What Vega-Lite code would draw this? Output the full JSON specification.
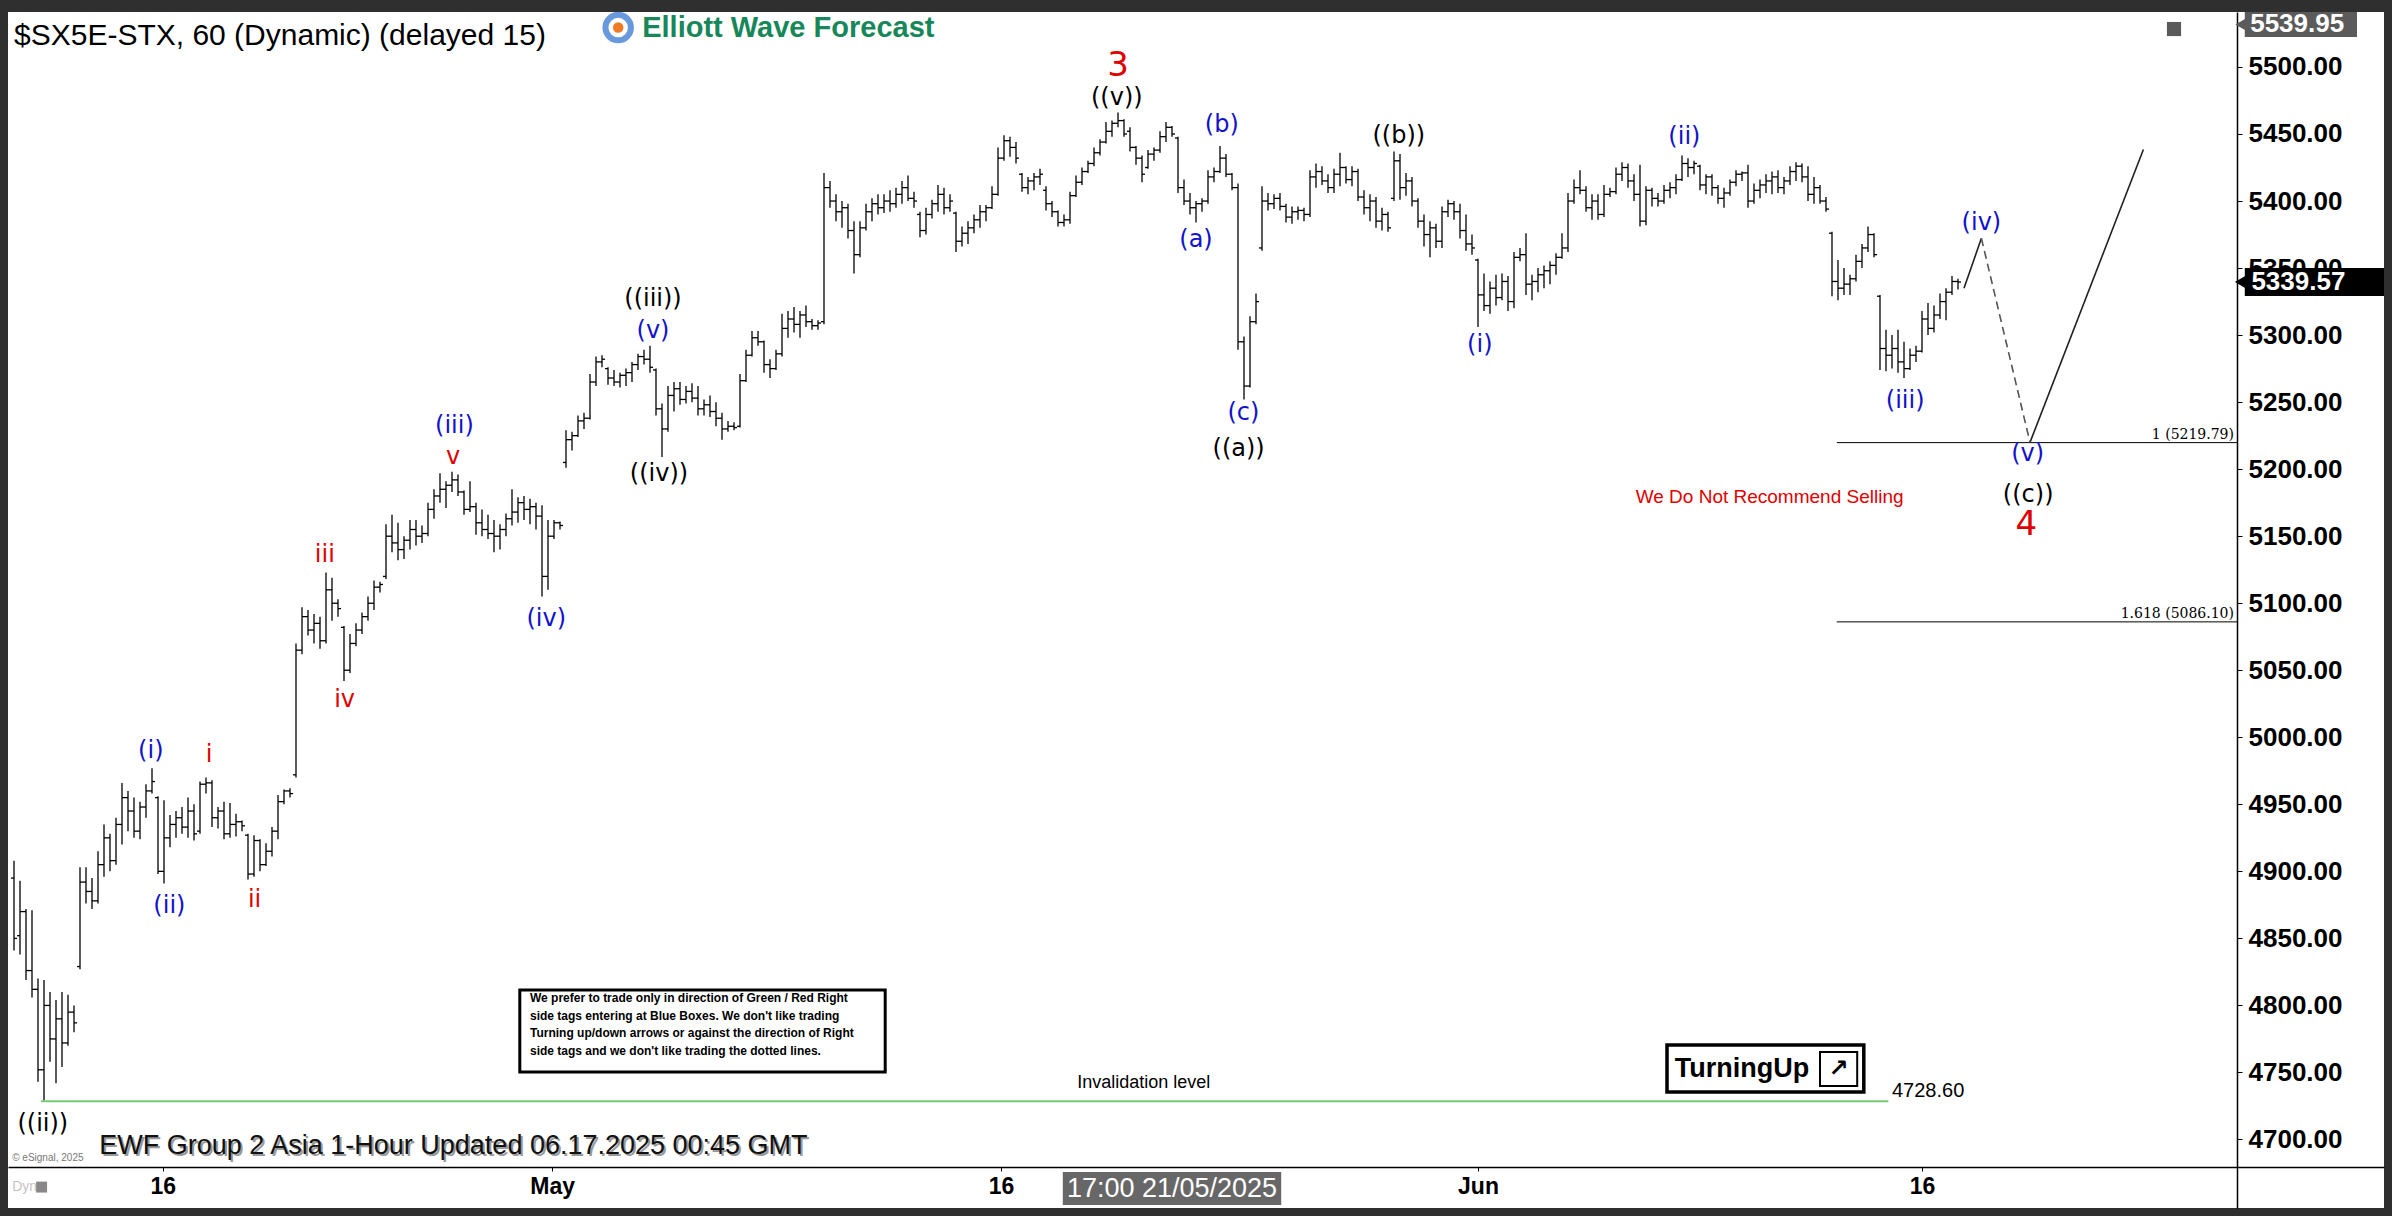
{
"$schema":"https://vega.github.io/schema/vega-lite/v6.json",
"width":2376,"height":1196,
"autosize":{"type":"none"},
"padding":{"left":8,"top":12,"right":8,"bottom":8},
"background":"#2f2f2f",
"config":{"view":{"fill":"#ffffff","stroke":null},"text":{"font":"Liberation Sans"}},
"datasets":{"bars":[
{"i":1,"o":4895,"h":4908,"l":4841,"c":4850},{"i":2,"o":4852,"h":4893,"l":4838,"c":4870},{"i":3,"o":4870,"h":4872,"l":4819,"c":4826},{"i":4,"o":4826,"h":4871,"l":4806,"c":4812},{"i":5,"o":4812,"h":4820,"l":4743,"c":4752},{"i":6,"o":4752,"h":4819,"l":4729,"c":4800},{"i":7,"o":4800,"h":4810,"l":4758,"c":4775},{"i":8,"o":4775,"h":4804,"l":4742,"c":4790},{"i":9,"o":4790,"h":4810,"l":4754,"c":4772},{"i":10,"o":4772,"h":4808,"l":4770,"c":4795},
{"i":11,"o":4795,"h":4800,"l":4780,"c":4787},{"i":12,"o":4829,"h":4903,"l":4827,"c":4892},{"i":13,"o":4892,"h":4903,"l":4876,"c":4885},{"i":14,"o":4885,"h":4895,"l":4872,"c":4878},{"i":15,"o":4878,"h":4915,"l":4876,"c":4905},{"i":16,"o":4905,"h":4935,"l":4896,"c":4925},{"i":17,"o":4925,"h":4928,"l":4900,"c":4908},{"i":18,"o":4908,"h":4940,"l":4905,"c":4935},{"i":19,"o":4935,"h":4966,"l":4920,"c":4955},{"i":20,"o":4955,"h":4960,"l":4930,"c":4945},
{"i":21,"o":4945,"h":4955,"l":4925,"c":4930},{"i":22,"o":4930,"h":4952,"l":4924,"c":4948},{"i":23,"o":4948,"h":4965,"l":4940,"c":4960},{"i":24,"o":4960,"h":4977,"l":4958,"c":4967},{"i":25,"o":4955,"h":4956,"l":4898,"c":4900},{"i":26,"o":4900,"h":4953,"l":4891,"c":4925},{"i":27,"o":4925,"h":4942,"l":4918,"c":4935},{"i":28,"o":4935,"h":4945,"l":4925,"c":4940},{"i":29,"o":4940,"h":4948,"l":4928,"c":4933},{"i":30,"o":4933,"h":4955,"l":4925,"c":4945},
{"i":31,"o":4945,"h":4950,"l":4923,"c":4928},{"i":32,"o":4930,"h":4967,"l":4928,"c":4965},{"i":33,"o":4965,"h":4970,"l":4958,"c":4966},{"i":34,"o":4966,"h":4968,"l":4933,"c":4940},{"i":35,"o":4940,"h":4948,"l":4932,"c":4945},{"i":36,"o":4945,"h":4952,"l":4924,"c":4928},{"i":37,"o":4928,"h":4951,"l":4925,"c":4935},{"i":38,"o":4935,"h":4943,"l":4926,"c":4937},{"i":39,"o":4937,"h":4938,"l":4930,"c":4934},{"i":40,"o":4927,"h":4928,"l":4894,"c":4898},
{"i":41,"o":4898,"h":4927,"l":4896,"c":4923},{"i":42,"o":4923,"h":4924,"l":4900,"c":4905},{"i":43,"o":4905,"h":4921,"l":4904,"c":4915},{"i":44,"o":4915,"h":4933,"l":4911,"c":4930},{"i":45,"o":4930,"h":4957,"l":4924,"c":4952},{"i":46,"o":4952,"h":4961,"l":4950,"c":4960},{"i":47,"o":4960,"h":4962,"l":4955,"c":4958},{"i":48,"o":4972,"h":5070,"l":4970,"c":5065},{"i":49,"o":5065,"h":5097,"l":5062,"c":5090},{"i":50,"o":5090,"h":5095,"l":5076,"c":5080},
{"i":51,"o":5080,"h":5092,"l":5070,"c":5085},{"i":52,"o":5085,"h":5090,"l":5066,"c":5072},{"i":53,"o":5072,"h":5123,"l":5070,"c":5110},{"i":54,"o":5110,"h":5119,"l":5087,"c":5100},{"i":55,"o":5100,"h":5103,"l":5090,"c":5096},{"i":56,"o":5082,"h":5083,"l":5042,"c":5050},{"i":57,"o":5050,"h":5077,"l":5048,"c":5070},{"i":58,"o":5070,"h":5085,"l":5068,"c":5080},{"i":59,"o":5080,"h":5093,"l":5077,"c":5090},{"i":60,"o":5090,"h":5105,"l":5087,"c":5100},
{"i":61,"o":5100,"h":5117,"l":5095,"c":5112},{"i":62,"o":5112,"h":5116,"l":5108,"c":5114},{"i":63,"o":5120,"h":5159,"l":5118,"c":5150},{"i":64,"o":5150,"h":5166,"l":5138,"c":5145},{"i":65,"o":5145,"h":5160,"l":5132,"c":5140},{"i":66,"o":5140,"h":5150,"l":5133,"c":5147},{"i":67,"o":5147,"h":5162,"l":5140,"c":5155},{"i":68,"o":5155,"h":5162,"l":5143,"c":5150},{"i":69,"o":5150,"h":5158,"l":5145,"c":5152},{"i":70,"o":5152,"h":5175,"l":5150,"c":5170},
{"i":71,"o":5170,"h":5185,"l":5163,"c":5180},{"i":72,"o":5180,"h":5197,"l":5175,"c":5185},{"i":73,"o":5185,"h":5191,"l":5171,"c":5188},{"i":74,"o":5188,"h":5198,"l":5183,"c":5192},{"i":75,"o":5192,"h":5196,"l":5180,"c":5183},{"i":76,"o":5183,"h":5184,"l":5166,"c":5170},{"i":77,"o":5170,"h":5191,"l":5168,"c":5172},{"i":78,"o":5172,"h":5175,"l":5151,"c":5160},{"i":79,"o":5160,"h":5170,"l":5150,"c":5155},{"i":80,"o":5155,"h":5166,"l":5148,"c":5152},
{"i":81,"o":5152,"h":5162,"l":5138,"c":5150},{"i":82,"o":5150,"h":5159,"l":5140,"c":5155},{"i":83,"o":5155,"h":5167,"l":5150,"c":5163},{"i":84,"o":5163,"h":5185,"l":5158,"c":5168},{"i":85,"o":5168,"h":5179,"l":5160,"c":5175},{"i":86,"o":5175,"h":5180,"l":5162,"c":5170},{"i":87,"o":5170,"h":5178,"l":5159,"c":5172},{"i":88,"o":5172,"h":5175,"l":5155,"c":5165},{"i":89,"o":5165,"h":5173,"l":5105,"c":5120},{"i":90,"o":5120,"h":5162,"l":5110,"c":5150},
{"i":91,"o":5150,"h":5162,"l":5148,"c":5160},{"i":92,"o":5160,"h":5161,"l":5155,"c":5158},{"i":93,"o":5205,"h":5229,"l":5201,"c":5222},{"i":94,"o":5222,"h":5228,"l":5214,"c":5225},{"i":95,"o":5225,"h":5240,"l":5224,"c":5236},{"i":96,"o":5236,"h":5242,"l":5230,"c":5238},{"i":97,"o":5238,"h":5271,"l":5237,"c":5265},{"i":98,"o":5265,"h":5284,"l":5262,"c":5280},{"i":99,"o":5280,"h":5285,"l":5276,"c":5282},{"i":100,"o":5275,"h":5276,"l":5263,"c":5268},
{"i":101,"o":5268,"h":5274,"l":5262,"c":5265},{"i":102,"o":5265,"h":5272,"l":5261,"c":5270},{"i":103,"o":5270,"h":5275,"l":5262,"c":5272},{"i":104,"o":5272,"h":5280,"l":5265,"c":5278},{"i":105,"o":5278,"h":5286,"l":5274,"c":5284},{"i":106,"o":5284,"h":5289,"l":5278,"c":5282},{"i":107,"o":5282,"h":5292,"l":5272,"c":5276},{"i":108,"o":5274,"h":5275,"l":5240,"c":5245},{"i":109,"o":5245,"h":5249,"l":5209,"c":5230},{"i":110,"o":5230,"h":5262,"l":5228,"c":5255},
{"i":111,"o":5255,"h":5265,"l":5243,"c":5260},{"i":112,"o":5260,"h":5265,"l":5248,"c":5252},{"i":113,"o":5252,"h":5262,"l":5249,"c":5258},{"i":114,"o":5258,"h":5264,"l":5250,"c":5253},{"i":115,"o":5253,"h":5262,"l":5240,"c":5245},{"i":116,"o":5245,"h":5252,"l":5240,"c":5248},{"i":117,"o":5248,"h":5255,"l":5239,"c":5243},{"i":118,"o":5243,"h":5250,"l":5232,"c":5238},{"i":119,"o":5238,"h":5242,"l":5222,"c":5230},{"i":120,"o":5230,"h":5236,"l":5228,"c":5232},
{"i":121,"o":5232,"h":5235,"l":5229,"c":5231},{"i":122,"o":5232,"h":5271,"l":5231,"c":5266},{"i":123,"o":5266,"h":5289,"l":5265,"c":5285},{"i":124,"o":5285,"h":5303,"l":5284,"c":5298},{"i":125,"o":5298,"h":5303,"l":5292,"c":5295},{"i":126,"o":5295,"h":5296,"l":5272,"c":5278},{"i":127,"o":5278,"h":5282,"l":5268,"c":5275},{"i":128,"o":5275,"h":5289,"l":5274,"c":5286},{"i":129,"o":5286,"h":5316,"l":5284,"c":5305},{"i":130,"o":5305,"h":5318,"l":5298,"c":5312},
{"i":131,"o":5312,"h":5321,"l":5302,"c":5308},{"i":132,"o":5308,"h":5318,"l":5298,"c":5315},{"i":133,"o":5315,"h":5322,"l":5306,"c":5310},{"i":134,"o":5310,"h":5312,"l":5304,"c":5307},{"i":135,"o":5307,"h":5311,"l":5304,"c":5309},{"i":136,"o":5310,"h":5421,"l":5308,"c":5410},{"i":137,"o":5410,"h":5415,"l":5395,"c":5400},{"i":138,"o":5400,"h":5405,"l":5385,"c":5392},{"i":139,"o":5392,"h":5400,"l":5380,"c":5395},{"i":140,"o":5395,"h":5398,"l":5372,"c":5378},
{"i":141,"o":5378,"h":5385,"l":5346,"c":5360},{"i":142,"o":5360,"h":5385,"l":5358,"c":5380},{"i":143,"o":5380,"h":5398,"l":5378,"c":5392},{"i":144,"o":5392,"h":5402,"l":5385,"c":5398},{"i":145,"o":5398,"h":5405,"l":5390,"c":5395},{"i":146,"o":5395,"h":5405,"l":5391,"c":5400},{"i":147,"o":5400,"h":5408,"l":5392,"c":5398},{"i":148,"o":5398,"h":5410,"l":5395,"c":5405},{"i":149,"o":5405,"h":5415,"l":5398,"c":5410},{"i":150,"o":5410,"h":5419,"l":5400,"c":5402},
{"i":151,"o":5402,"h":5407,"l":5395,"c":5400},{"i":152,"o":5390,"h":5392,"l":5373,"c":5378},{"i":153,"o":5378,"h":5395,"l":5375,"c":5390},{"i":154,"o":5390,"h":5401,"l":5387,"c":5398},{"i":155,"o":5398,"h":5412,"l":5392,"c":5405},{"i":156,"o":5405,"h":5410,"l":5390,"c":5395},{"i":157,"o":5395,"h":5405,"l":5392,"c":5400},{"i":158,"o":5391,"h":5392,"l":5362,"c":5370},{"i":159,"o":5370,"h":5381,"l":5366,"c":5376},{"i":160,"o":5376,"h":5385,"l":5368,"c":5380},
{"i":161,"o":5380,"h":5390,"l":5376,"c":5386},{"i":162,"o":5386,"h":5397,"l":5380,"c":5392},{"i":163,"o":5392,"h":5397,"l":5385,"c":5395},{"i":164,"o":5395,"h":5411,"l":5394,"c":5405},{"i":165,"o":5405,"h":5440,"l":5404,"c":5432},{"i":166,"o":5432,"h":5449,"l":5430,"c":5445},{"i":167,"o":5445,"h":5448,"l":5433,"c":5440},{"i":168,"o":5440,"h":5444,"l":5428,"c":5432},{"i":169,"o":5420,"h":5421,"l":5407,"c":5410},{"i":170,"o":5410,"h":5418,"l":5405,"c":5415},
{"i":171,"o":5415,"h":5421,"l":5408,"c":5418},{"i":172,"o":5418,"h":5424,"l":5412,"c":5420},{"i":173,"o":5408,"h":5411,"l":5393,"c":5398},{"i":174,"o":5398,"h":5400,"l":5388,"c":5392},{"i":175,"o":5392,"h":5393,"l":5381,"c":5384},{"i":176,"o":5384,"h":5390,"l":5381,"c":5386},{"i":177,"o":5386,"h":5407,"l":5383,"c":5404},{"i":178,"o":5404,"h":5419,"l":5403,"c":5414},{"i":179,"o":5414,"h":5425,"l":5412,"c":5422},{"i":180,"o":5422,"h":5430,"l":5421,"c":5428},
{"i":181,"o":5428,"h":5440,"l":5426,"c":5436},{"i":182,"o":5436,"h":5446,"l":5434,"c":5444},{"i":183,"o":5444,"h":5459,"l":5443,"c":5452},{"i":184,"o":5452,"h":5460,"l":5448,"c":5458},{"i":185,"o":5458,"h":5466,"l":5455,"c":5460},{"i":186,"o":5460,"h":5461,"l":5448,"c":5450},{"i":187,"o":5452,"h":5455,"l":5437,"c":5440},{"i":188,"o":5440,"h":5441,"l":5427,"c":5432},{"i":189,"o":5432,"h":5434,"l":5414,"c":5420},{"i":190,"o":5425,"h":5438,"l":5424,"c":5435},
{"i":191,"o":5435,"h":5440,"l":5430,"c":5438},{"i":192,"o":5438,"h":5452,"l":5436,"c":5448},{"i":193,"o":5448,"h":5459,"l":5444,"c":5455},{"i":194,"o":5455,"h":5456,"l":5448,"c":5450},{"i":195,"o":5447,"h":5448,"l":5406,"c":5410},{"i":196,"o":5410,"h":5416,"l":5397,"c":5400},{"i":197,"o":5400,"h":5406,"l":5390,"c":5395},{"i":198,"o":5395,"h":5400,"l":5384,"c":5398},{"i":199,"o":5398,"h":5402,"l":5392,"c":5400},{"i":200,"o":5400,"h":5423,"l":5398,"c":5418},
{"i":201,"o":5418,"h":5425,"l":5414,"c":5422},{"i":202,"o":5422,"h":5441,"l":5421,"c":5432},{"i":203,"o":5432,"h":5435,"l":5418,"c":5420},{"i":204,"o":5420,"h":5421,"l":5408,"c":5410},{"i":205,"o":5410,"h":5413,"l":5289,"c":5295},{"i":206,"o":5295,"h":5299,"l":5252,"c":5262},{"i":207,"o":5262,"h":5314,"l":5261,"c":5310},{"i":208,"o":5310,"h":5331,"l":5308,"c":5325},{"i":209,"o":5365,"h":5411,"l":5363,"c":5400},{"i":210,"o":5400,"h":5406,"l":5393,"c":5398},
{"i":211,"o":5398,"h":5405,"l":5394,"c":5402},{"i":212,"o":5402,"h":5406,"l":5393,"c":5396},{"i":213,"o":5396,"h":5398,"l":5384,"c":5388},{"i":214,"o":5388,"h":5396,"l":5383,"c":5392},{"i":215,"o":5392,"h":5396,"l":5386,"c":5393},{"i":216,"o":5393,"h":5395,"l":5385,"c":5390},{"i":217,"o":5390,"h":5423,"l":5388,"c":5418},{"i":218,"o":5418,"h":5428,"l":5410,"c":5422},{"i":219,"o":5422,"h":5426,"l":5412,"c":5415},{"i":220,"o":5415,"h":5420,"l":5406,"c":5410},
{"i":221,"o":5410,"h":5424,"l":5406,"c":5420},{"i":222,"o":5420,"h":5436,"l":5411,"c":5425},{"i":223,"o":5425,"h":5426,"l":5413,"c":5416},{"i":224,"o":5416,"h":5426,"l":5411,"c":5422},{"i":225,"o":5422,"h":5424,"l":5400,"c":5403},{"i":226,"o":5403,"h":5408,"l":5390,"c":5395},{"i":227,"o":5395,"h":5405,"l":5385,"c":5400},{"i":228,"o":5400,"h":5403,"l":5380,"c":5385},{"i":229,"o":5385,"h":5395,"l":5378,"c":5390},{"i":230,"o":5390,"h":5392,"l":5377,"c":5380},
{"i":231,"o":5402,"h":5437,"l":5400,"c":5430},{"i":232,"o":5430,"h":5435,"l":5401,"c":5410},{"i":233,"o":5410,"h":5421,"l":5404,"c":5415},{"i":234,"o":5415,"h":5418,"l":5396,"c":5400},{"i":235,"o":5400,"h":5402,"l":5380,"c":5385},{"i":236,"o":5385,"h":5390,"l":5366,"c":5375},{"i":237,"o":5375,"h":5385,"l":5358,"c":5380},{"i":238,"o":5380,"h":5383,"l":5365,"c":5370},{"i":239,"o":5370,"h":5396,"l":5365,"c":5392},{"i":240,"o":5392,"h":5401,"l":5388,"c":5398},
{"i":241,"o":5398,"h":5400,"l":5386,"c":5392},{"i":242,"o":5392,"h":5398,"l":5372,"c":5378},{"i":243,"o":5378,"h":5390,"l":5363,"c":5368},{"i":244,"o":5368,"h":5375,"l":5360,"c":5365},{"i":245,"o":5356,"h":5357,"l":5306,"c":5330},{"i":246,"o":5330,"h":5346,"l":5318,"c":5322},{"i":247,"o":5322,"h":5340,"l":5316,"c":5335},{"i":248,"o":5335,"h":5345,"l":5322,"c":5328},{"i":249,"o":5328,"h":5346,"l":5326,"c":5340},{"i":250,"o":5340,"h":5344,"l":5318,"c":5325},
{"i":251,"o":5325,"h":5362,"l":5320,"c":5358},{"i":252,"o":5358,"h":5365,"l":5355,"c":5360},{"i":253,"o":5360,"h":5376,"l":5330,"c":5338},{"i":254,"o":5338,"h":5345,"l":5326,"c":5340},{"i":255,"o":5340,"h":5350,"l":5332,"c":5345},{"i":256,"o":5345,"h":5352,"l":5335,"c":5348},{"i":257,"o":5348,"h":5355,"l":5338,"c":5352},{"i":258,"o":5352,"h":5361,"l":5345,"c":5358},{"i":259,"o":5358,"h":5376,"l":5357,"c":5365},{"i":260,"o":5365,"h":5406,"l":5362,"c":5400},
{"i":261,"o":5400,"h":5416,"l":5398,"c":5410},{"i":262,"o":5410,"h":5423,"l":5405,"c":5408},{"i":263,"o":5408,"h":5411,"l":5392,"c":5395},{"i":264,"o":5395,"h":5405,"l":5386,"c":5400},{"i":265,"o":5400,"h":5405,"l":5386,"c":5390},{"i":266,"o":5390,"h":5412,"l":5388,"c":5405},{"i":267,"o":5405,"h":5410,"l":5403,"c":5407},{"i":268,"o":5407,"h":5425,"l":5405,"c":5420},{"i":269,"o":5420,"h":5429,"l":5415,"c":5425},{"i":270,"o":5425,"h":5428,"l":5410,"c":5415},
{"i":271,"o":5415,"h":5420,"l":5400,"c":5405},{"i":272,"o":5405,"h":5427,"l":5381,"c":5385},{"i":273,"o":5385,"h":5411,"l":5382,"c":5408},{"i":274,"o":5408,"h":5410,"l":5396,"c":5402},{"i":275,"o":5402,"h":5406,"l":5396,"c":5400},{"i":276,"o":5400,"h":5412,"l":5398,"c":5408},{"i":277,"o":5408,"h":5414,"l":5402,"c":5410},{"i":278,"o":5410,"h":5420,"l":5405,"c":5416},{"i":279,"o":5416,"h":5434,"l":5415,"c":5428},{"i":280,"o":5428,"h":5432,"l":5418,"c":5425},
{"i":281,"o":5425,"h":5430,"l":5420,"c":5428},{"i":282,"o":5426,"h":5427,"l":5408,"c":5412},{"i":283,"o":5412,"h":5420,"l":5405,"c":5418},{"i":284,"o":5418,"h":5420,"l":5404,"c":5410},{"i":285,"o":5410,"h":5412,"l":5398,"c":5402},{"i":286,"o":5402,"h":5410,"l":5395,"c":5406},{"i":287,"o":5406,"h":5416,"l":5404,"c":5414},{"i":288,"o":5414,"h":5423,"l":5411,"c":5420},{"i":289,"o":5420,"h":5422,"l":5415,"c":5421},{"i":290,"o":5421,"h":5427,"l":5395,"c":5400},
{"i":291,"o":5400,"h":5413,"l":5398,"c":5408},{"i":292,"o":5408,"h":5416,"l":5402,"c":5412},{"i":293,"o":5412,"h":5420,"l":5406,"c":5415},{"i":294,"o":5415,"h":5422,"l":5405,"c":5418},{"i":295,"o":5418,"h":5423,"l":5406,"c":5410},{"i":296,"o":5410,"h":5418,"l":5405,"c":5415},{"i":297,"o":5415,"h":5426,"l":5412,"c":5422},{"i":298,"o":5422,"h":5429,"l":5415,"c":5426},{"i":299,"o":5426,"h":5428,"l":5414,"c":5418},{"i":300,"o":5418,"h":5426,"l":5400,"c":5405},
{"i":301,"o":5405,"h":5418,"l":5398,"c":5410},{"i":302,"o":5410,"h":5412,"l":5398,"c":5400},{"i":303,"o":5400,"h":5403,"l":5392,"c":5394},{"i":304,"o":5376,"h":5377,"l":5329,"c":5340},{"i":305,"o":5340,"h":5356,"l":5326,"c":5335},{"i":306,"o":5335,"h":5350,"l":5330,"c":5338},{"i":307,"o":5338,"h":5345,"l":5330,"c":5342},{"i":308,"o":5342,"h":5360,"l":5340,"c":5355},{"i":309,"o":5355,"h":5368,"l":5350,"c":5365},{"i":310,"o":5365,"h":5381,"l":5362,"c":5375},
{"i":311,"o":5375,"h":5376,"l":5358,"c":5360},{"i":312,"o":5329,"h":5330,"l":5274,"c":5290},{"i":313,"o":5290,"h":5304,"l":5273,"c":5285},{"i":314,"o":5285,"h":5300,"l":5275,"c":5290},{"i":315,"o":5290,"h":5304,"l":5272,"c":5280},{"i":316,"o":5280,"h":5295,"l":5268,"c":5275},{"i":317,"o":5275,"h":5290,"l":5274,"c":5285},{"i":318,"o":5285,"h":5292,"l":5280,"c":5288},{"i":319,"o":5288,"h":5318,"l":5287,"c":5312},{"i":320,"o":5312,"h":5324,"l":5300,"c":5305},
{"i":321,"o":5305,"h":5322,"l":5302,"c":5315},{"i":322,"o":5315,"h":5331,"l":5312,"c":5325},{"i":323,"o":5325,"h":5335,"l":5311,"c":5332},{"i":324,"o":5332,"h":5344,"l":5330,"c":5340},{"i":325,"o":5340,"h":5342,"l":5334,"c":5339.57}
]},
"layer":[
{"data":{"values":[{"a":97.5,"b":155.3,"v1":5541,"v2":5513.4}]},
 "mark":{"type":"rect","fill":"#ffffff"},
 "encoding":{"x":{"field":"a","type":"quantitative"},"x2":{"field":"b"},"y":{"field":"v1","type":"quantitative"},"y2":{"field":"v2"}}},
{"data":{"values":[{"i":101.7,"v":5529.4}]},
 "mark":{"type":"point","shape":"circle","size":650,"filled":false,"stroke":"#2a6fd0","strokeWidth":6},
 "encoding":{"x":{"field":"i","type":"quantitative"},"y":{"field":"v","type":"quantitative"}}},
{"data":{"values":[{"i":101.7,"v":5529.4}]},
 "mark":{"type":"point","shape":"circle","size":110,"filled":true,"fill":"#f07a26","opacity":1},
 "encoding":{"x":{"field":"i","type":"quantitative"},"y":{"field":"v","type":"quantitative"}}},
{"data":{"values":[{"i":105.7,"v":5529.4,"t":"Elliott Wave Forecast"}]},
 "mark":{"type":"text","align":"left","baseline":"middle","font":"Liberation Sans","fontSize":29,"fontWeight":"bold","color":"#17875a"},
 "encoding":{"x":{"field":"i","type":"quantitative"},"y":{"field":"v","type":"quantitative"},"text":{"field":"t"}}},
{"data":{"values":[{"i":1,"v":5523,"t":"$SX5E-STX, 60 (Dynamic) (delayed 15)"}]},
 "mark":{"type":"text","align":"left","baseline":"middle","font":"Liberation Sans","fontSize":30,"color":"#000000"},
 "encoding":{"x":{"field":"i","type":"quantitative"},"y":{"field":"v","type":"quantitative"},"text":{"field":"t"}}},
{"data":{"name":"bars"},
 "mark":{"type":"rule","color":"#000000","strokeWidth":1.3},
 "encoding":{
  "x":{"field":"i","type":"quantitative","scale":{"domain":[0,396],"nice":false,"zero":false},
   "axis":{"orient":"bottom","offset":-41,"values":[25.8,90.7,165.5,245,319],
    "labelExpr":"datum.value < 50 ? '16' : datum.value < 120 ? 'May' : datum.value < 200 ? '16' : datum.value < 280 ? 'Jun' : '16'",
    "title":null,"grid":false,"domainColor":"#000000","domainWidth":1.5,"tickColor":"#000000","tickSize":4,
    "labelFont":"Liberation Sans","labelFontSize":23,"labelFontWeight":"bold","labelColor":"#000000","labelPadding":4,"labelFlush":false,"labelOverlap":false}},
  "y":{"field":"l","type":"quantitative","scale":{"domain":[4648.9,5541],"nice":false,"zero":false},
   "axis":{"orient":"right","offset":-147,"values":[4700,4750,4800,4850,4900,4950,5000,5050,5100,5150,5200,5250,5300,5350,5400,5450,5500],"format":".2f",
    "title":null,"grid":false,"domainColor":"#000000","domainWidth":1.5,"tickColor":"#000000","tickSize":5,
    "labelFont":"Liberation Sans","labelFontSize":26,"labelFontWeight":"bold","labelColor":"#000000","labelPadding":6,"labelOverlap":false}},
  "y2":{"field":"h"}}},
{"data":{"name":"bars"},
 "mark":{"type":"rule","color":"#000000","strokeWidth":1.3,"xOffset":-3,"x2Offset":0},
 "encoding":{"x":{"field":"i","type":"quantitative"},"x2":{"field":"i"},"y":{"field":"o","type":"quantitative"}}},
{"data":{"name":"bars"},
 "mark":{"type":"rule","color":"#000000","strokeWidth":1.3,"xOffset":0,"x2Offset":3},
 "encoding":{"x":{"field":"i","type":"quantitative"},"x2":{"field":"i"},"y":{"field":"c","type":"quantitative"}}},
{"data":{"values":[{"lbl":"1 (5219.79)","v":5219.79,"a":304.8,"b":371.5},{"lbl":"1.618 (5086.10)","v":5086.10,"a":304.8,"b":371.5}]},
 "layer":[
  {"mark":{"type":"rule","color":"#000000","strokeWidth":1},
   "encoding":{"x":{"field":"a","type":"quantitative"},"x2":{"field":"b"},"y":{"field":"v","type":"quantitative"}}},
  {"mark":{"type":"text","align":"right","baseline":"alphabetic","dx":-3,"dy":-4,"font":"DejaVu Serif","fontSize":14,"color":"#000000"},
   "encoding":{"x":{"field":"b","type":"quantitative"},"y":{"field":"v","type":"quantitative"},"text":{"field":"lbl"}}}]},
{"data":{"values":[{"v":4728.6,"a":5.5,"b":313.4}]},
 "mark":{"type":"rule","color":"#74cc74","strokeWidth":2},
 "encoding":{"x":{"field":"a","type":"quantitative"},"x2":{"field":"b"},"y":{"field":"v","type":"quantitative"}}},
{"data":{"values":[{"i":189.3,"v":4742.1,"t":"Invalidation level"}]},
 "mark":{"type":"text","align":"center","baseline":"middle","font":"Liberation Sans","fontSize":18,"color":"#000000"},
 "encoding":{"x":{"field":"i","type":"quantitative"},"y":{"field":"v","type":"quantitative"},"text":{"field":"t"}}},
{"data":{"values":[{"i":314,"v":4736.3,"t":"4728.60"}]},
 "mark":{"type":"text","align":"left","baseline":"middle","font":"Liberation Sans","fontSize":20,"color":"#000000"},
 "encoding":{"x":{"field":"i","type":"quantitative"},"y":{"field":"v","type":"quantitative"},"text":{"field":"t"}}},
{"data":{"values":[{"seg":"a","i":326,"v":5335},{"seg":"a","i":328.9,"v":5372.2},{"seg":"c","i":337,"v":5220},{"seg":"c","i":355.9,"v":5438.4}]},
 "mark":{"type":"line","strokeWidth":1.6,"color":"#222222"},
 "encoding":{"x":{"field":"i","type":"quantitative"},"y":{"field":"v","type":"quantitative"},"detail":{"field":"seg"}}},
{"data":{"values":[{"seg":"b","i":328.9,"v":5372.2},{"seg":"b","i":337,"v":5220}]},
 "mark":{"type":"line","strokeWidth":1.6,"color":"#555555","strokeDash":[8,5]},
 "encoding":{"x":{"field":"i","type":"quantitative"},"y":{"field":"v","type":"quantitative"}}},
{"data":{"values":[
 {"t":"((ii))","i":5.8,"v":4711.2,"d":"minute"},{"t":"(i)","i":23.8,"v":4990.1,"d":"minuette"},{"t":"(ii)","i":26.9,"v":4874,"d":"minuette"},
 {"t":"i","i":33.5,"v":4986.7,"d":"sub"},{"t":"ii","i":41.1,"v":4878.6,"d":"sub"},{"t":"iii","i":52.8,"v":5135.7,"d":"sub"},{"t":"iv","i":56.1,"v":5027.7,"d":"sub"},
 {"t":"(iii)","i":74.4,"v":5232,"d":"minuette"},{"t":"v","i":74.2,"v":5209,"d":"sub"},{"t":"(iv)","i":89.7,"v":5087.9,"d":"minuette"},
 {"t":"((iii))","i":107.5,"v":5327,"d":"minute"},{"t":"(v)","i":107.5,"v":5303,"d":"minuette"},{"t":"((iv))","i":108.5,"v":5196.1,"d":"minute"},
 {"t":"3","i":185,"v":5501,"d":"minor"},{"t":"((v))","i":184.8,"v":5477,"d":"minute"},{"t":"(b)","i":202.3,"v":5456.6,"d":"minuette"},
 {"t":"(a)","i":198,"v":5371.3,"d":"minuette"},{"t":"(c)","i":205.9,"v":5242,"d":"minuette"},{"t":"((a))","i":205.1,"v":5215,"d":"minute"},
 {"t":"((b))","i":231.8,"v":5448.7,"d":"minute"},{"t":"(i)","i":245.3,"v":5292.8,"d":"minuette"},{"t":"(ii)","i":279.4,"v":5447.5,"d":"minuette"},
 {"t":"(iii)","i":316.2,"v":5250.7,"d":"minuette"},{"t":"(iv)","i":328.9,"v":5383.8,"d":"minuette"},{"t":"(v)","i":336.6,"v":5211,"d":"minuette"},
 {"t":"((c))","i":336.7,"v":5181,"d":"minute"},{"t":"4","i":336.4,"v":5158,"d":"minor"}]},
 "layer":[
  {"transform":[{"filter":"datum.d !== 'minor'"}],
   "mark":{"type":"text","align":"center","baseline":"middle","font":"DejaVu Sans","fontSize":24},
   "encoding":{"x":{"field":"i","type":"quantitative"},"y":{"field":"v","type":"quantitative"},"text":{"field":"t"},
    "color":{"field":"d","type":"nominal","scale":{"domain":["minute","minuette","sub"],"range":["#000000","#1212cc","#e00000"]},"legend":null}}},
  {"transform":[{"filter":"datum.d === 'minor'"}],
   "mark":{"type":"text","align":"center","baseline":"middle","font":"DejaVu Sans","fontSize":34,"color":"#e00000"},
   "encoding":{"x":{"field":"i","type":"quantitative"},"y":{"field":"v","type":"quantitative"},"text":{"field":"t"}}}]},
{"data":{"values":[{"i":293.6,"v":5179,"t":"We Do Not Recommend Selling"}]},
 "mark":{"type":"text","align":"center","baseline":"middle","font":"Liberation Sans","fontSize":19,"color":"#e00000"},
 "encoding":{"x":{"field":"i","type":"quantitative"},"y":{"field":"v","type":"quantitative"},"text":{"field":"t"}}},
{"data":{"values":[{"a":85.3,"b":146.2,"v1":4811.5,"v2":4750.3}]},
 "mark":{"type":"rect","fill":"#ffffff","stroke":"#000000","strokeWidth":3},
 "encoding":{"x":{"field":"a","type":"quantitative"},"x2":{"field":"b"},"y":{"field":"v1","type":"quantitative"},"y2":{"field":"v2"}}},
{"data":{"values":[{"i":87,"v":4809,"t":["We prefer to trade only in direction of Green / Red Right","side tags entering at Blue Boxes. We don't like trading","Turning up/down arrows or against the direction of Right","side tags and we don't like trading the dotted lines."]}]},
 "mark":{"type":"text","align":"left","baseline":"top","font":"Liberation Sans","fontSize":12,"fontWeight":"bold","lineHeight":17.5,"color":"#000000"},
 "encoding":{"x":{"field":"i","type":"quantitative"},"y":{"field":"v","type":"quantitative"},"text":{"field":"t"}}},
{"data":{"values":[{"a":276.5,"b":309.3,"v1":4770.5,"v2":4735.4}]},
 "mark":{"type":"rect","fill":"#ffffff","stroke":"#000000","strokeWidth":3.5},
 "encoding":{"x":{"field":"a","type":"quantitative"},"x2":{"field":"b"},"y":{"field":"v1","type":"quantitative"},"y2":{"field":"v2"}}},
{"data":{"values":[{"a":302,"b":308.2,"v1":4765.2,"v2":4739.9}]},
 "mark":{"type":"rect","fill":"#ffffff","stroke":"#000000","strokeWidth":2},
 "encoding":{"x":{"field":"a","type":"quantitative"},"x2":{"field":"b"},"y":{"field":"v1","type":"quantitative"},"y2":{"field":"v2"}}},
{"data":{"values":[{"i":277.8,"v":4752.5,"t":"TurningUp"}]},
 "mark":{"type":"text","align":"left","baseline":"middle","font":"Liberation Sans","fontSize":27,"fontWeight":"bold","color":"#000000"},
 "encoding":{"x":{"field":"i","type":"quantitative"},"y":{"field":"v","type":"quantitative"},"text":{"field":"t"}}},
{"data":{"values":[{"i":305.1,"v":4752.5,"t":"↗"}]},
 "mark":{"type":"text","align":"center","baseline":"middle","font":"DejaVu Sans","fontSize":24,"fontWeight":"bold","color":"#000000"},
 "encoding":{"x":{"field":"i","type":"quantitative"},"y":{"field":"v","type":"quantitative"},"text":{"field":"t"}}},
{"data":{"values":[{"i":15.2,"v":4695.1,"t":"EWF Group 2 Asia 1-Hour Updated 06.17.2025 00:45 GMT"}]},
 "layer":[
  {"mark":{"type":"text","align":"left","baseline":"middle","dx":2,"dy":2,"font":"Liberation Sans","fontSize":27,"color":"#9a9a9a"},
   "encoding":{"x":{"field":"i","type":"quantitative"},"y":{"field":"v","type":"quantitative"},"text":{"field":"t"}}},
  {"mark":{"type":"text","align":"left","baseline":"middle","font":"Liberation Sans","fontSize":27,"color":"#111111"},
   "encoding":{"x":{"field":"i","type":"quantitative"},"y":{"field":"v","type":"quantitative"},"text":{"field":"t"}}}]},
{"data":{"values":[{"i":0.7,"v":4686,"t":"© eSignal, 2025"}]},
 "mark":{"type":"text","align":"left","baseline":"middle","font":"Liberation Sans","fontSize":10,"color":"#777777"},
 "encoding":{"x":{"field":"i","type":"quantitative"},"y":{"field":"v","type":"quantitative"},"text":{"field":"t"}}},
{"data":{"values":[{"i":0.7,"v":4664.5,"t":"Dyn"}]},
 "mark":{"type":"text","align":"left","baseline":"middle","font":"Liberation Sans","fontSize":14,"color":"#c4c4c4"},
 "encoding":{"x":{"field":"i","type":"quantitative"},"y":{"field":"v","type":"quantitative"},"text":{"field":"t"}}},
{"data":{"values":[{"i":5.6,"v":4664.5}]},
 "mark":{"type":"point","shape":"square","size":120,"filled":true,"fill":"#888888","opacity":1},
 "encoding":{"x":{"field":"i","type":"quantitative"},"y":{"field":"v","type":"quantitative"}}},
{"data":{"values":[{"a":175.8,"b":212.2,"v1":4675.7,"v2":4651.1}]},
 "mark":{"type":"rect","fill":"#676767"},
 "encoding":{"x":{"field":"a","type":"quantitative"},"x2":{"field":"b"},"y":{"field":"v1","type":"quantitative"},"y2":{"field":"v2"}}},
{"data":{"values":[{"i":194,"v":4663.4,"t":"17:00 21/05/2025"}]},
 "mark":{"type":"text","align":"center","baseline":"middle","font":"Liberation Sans","fontSize":27,"color":"#ffffff"},
 "encoding":{"x":{"field":"i","type":"quantitative"},"y":{"field":"v","type":"quantitative"},"text":{"field":"t"}}},
{"data":{"values":[{"i":361,"v":5528.3}]},
 "mark":{"type":"point","shape":"square","size":200,"filled":true,"fill":"#5a5a5a","opacity":1},
 "encoding":{"x":{"field":"i","type":"quantitative"},"y":{"field":"v","type":"quantitative"}}},
{"data":{"values":[{"a":372.8,"b":391.5,"v1":5541,"v2":5522.4}]},
 "mark":{"type":"rect","fill":"#5b5b5b"},
 "encoding":{"x":{"field":"a","type":"quantitative"},"x2":{"field":"b"},"y":{"field":"v1","type":"quantitative"},"y2":{"field":"v2"}}},
{"data":{"values":[{"i":372.4,"v":5531.7}]},
 "mark":{"type":"point","shape":"triangle-left","size":260,"filled":true,"fill":"#5b5b5b","opacity":1},
 "encoding":{"x":{"field":"i","type":"quantitative"},"y":{"field":"v","type":"quantitative"}}},
{"data":{"values":[{"i":373.7,"v":5531.7,"t":"5539.95"}]},
 "mark":{"type":"text","align":"left","baseline":"middle","font":"Liberation Sans","fontSize":26,"fontWeight":"bold","color":"#ffffff"},
 "encoding":{"x":{"field":"i","type":"quantitative"},"y":{"field":"v","type":"quantitative"},"text":{"field":"t"}}},
{"data":{"values":[{"a":372.8,"b":396,"v1":5350,"v2":5329.2}]},
 "mark":{"type":"rect","fill":"#000000"},
 "encoding":{"x":{"field":"a","type":"quantitative"},"x2":{"field":"b"},"y":{"field":"v1","type":"quantitative"},"y2":{"field":"v2"}}},
{"data":{"values":[{"i":372.4,"v":5339.6}]},
 "mark":{"type":"point","shape":"triangle-left","size":300,"filled":true,"fill":"#000000","opacity":1},
 "encoding":{"x":{"field":"i","type":"quantitative"},"y":{"field":"v","type":"quantitative"}}},
{"data":{"values":[{"i":373.9,"v":5339.6,"t":"5339.57"}]},
 "mark":{"type":"text","align":"left","baseline":"middle","font":"Liberation Sans","fontSize":26,"fontWeight":"bold","color":"#ffffff"},
 "encoding":{"x":{"field":"i","type":"quantitative"},"y":{"field":"v","type":"quantitative"},"text":{"field":"t"}}}
]
}
